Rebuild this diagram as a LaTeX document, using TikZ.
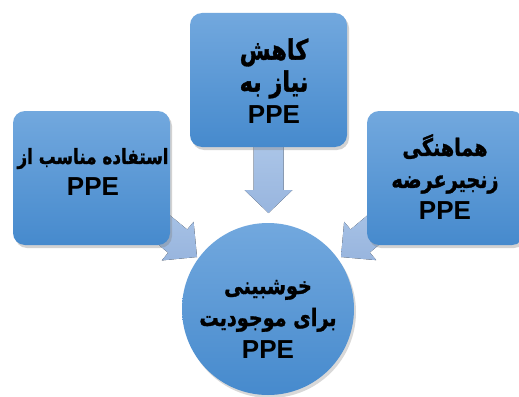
\documentclass[tikz,border=0pt]{standalone}
\usepackage{fontspec}
\setmainfont{Liberation Sans}
\newfontfamily\arfont[Script=Arabic,FakeStretch=0.8,BoldFeatures={FakeBold=1.2}]{DejaVu Sans}
\TeXXeTstate=1
\usetikzlibrary{calc,shadows}
\definecolor{boxtop}{RGB}{114,168,222}
\definecolor{boxbot}{RGB}{70,138,205}
\definecolor{arrtop}{RGB}{172,198,232}
\definecolor{arrbot}{RGB}{152,181,222}
\newcommand\ar[2][24]{{\arfont\bfseries\fontsize{#1}{32}\selectfont\beginR #2\endR}}
\newcommand\la[1]{{\bfseries\fontsize{26}{32}\selectfont #1}}
\newcommand\blockarrow[5]{%
  \coordinate (ba-h) at ($(#2)!#5!(#1)$);
  \fill[arrowfill]
    ($(#1)!#3!90:(#2)$) -- ($(ba-h)!#3!-90:(#1)$) -- ($(ba-h)!#4!-90:(#1)$)
    -- (#2) -- ($(ba-h)!#4!90:(#1)$) -- ($(ba-h)!#3!90:(#1)$)
    -- ($(#1)!#3!-90:(#2)$) -- cycle;}
\begin{document}
\begin{tikzpicture}[x=1pt,y=-1pt,
  arrowfill/.style={top color=arrtop,bottom color=arrbot},
  bluebox/.style={rectangle,rounded corners=12pt,minimum width=157pt,minimum height=134pt,
    top color=boxtop,bottom color=boxbot,draw=none,
    drop shadow={opacity=0.35,shadow xshift=2pt,shadow yshift=-3pt}},
  bluecirc/.style={circle,minimum size=172pt,top color=boxtop,bottom color=boxbot,draw=none,
    drop shadow={opacity=0.3,shadow xshift=2pt,shadow yshift=-3pt}},
  txt/.style={align=center,font=\fontsize{24}{32}\selectfont,text=black,inner sep=0pt}]
\useasboundingbox (0,0) rectangle (519,396);
\fill[white] (0,0) rectangle (519,396);
% arrow coordinates
\coordinate (ts) at (268.5,140);
\coordinate (tt) at (268.5,213);
\coordinate (ls) at (135,206);
\coordinate (lt) at (197,257);
\coordinate (rs) at (402,206);
\coordinate (rt) at (341,257);
\blockarrow{ts}{tt}{15pt}{24pt}{23pt}
\blockarrow{ls}{lt}{15pt}{25pt}{25pt}
\blockarrow{rs}{rt}{15pt}{25pt}{25pt}
% shapes
\node[bluebox] (top) at (268.5,80) {};
\node[bluebox] (left) at (91.5,178) {};
\node[bluebox] (right) at (445.5,178) {};
\node[bluecirc] (mid) at (268,309) {};
% texts
\node[txt] (toptxt) at (274,81) {\ar[28]{کاهش}\\ \ar[28]{نیاز به}\\ \la{PPE}};
\node[txt] (lefttxt) at (93,172) {\ar[21]{استفاده مناسب از}\\ \la{PPE}};
\node[txt] (righttxt) at (445,177) {\ar{هماهنگی}\\ \ar{زنجیرعرضه}\\ \la{PPE}};
\node[txt] (midtxt) at (268,319) {\ar{خوشبینی}\\ \ar{برای موجودیت}\\ \la{PPE}};
\end{tikzpicture}
\end{document}
